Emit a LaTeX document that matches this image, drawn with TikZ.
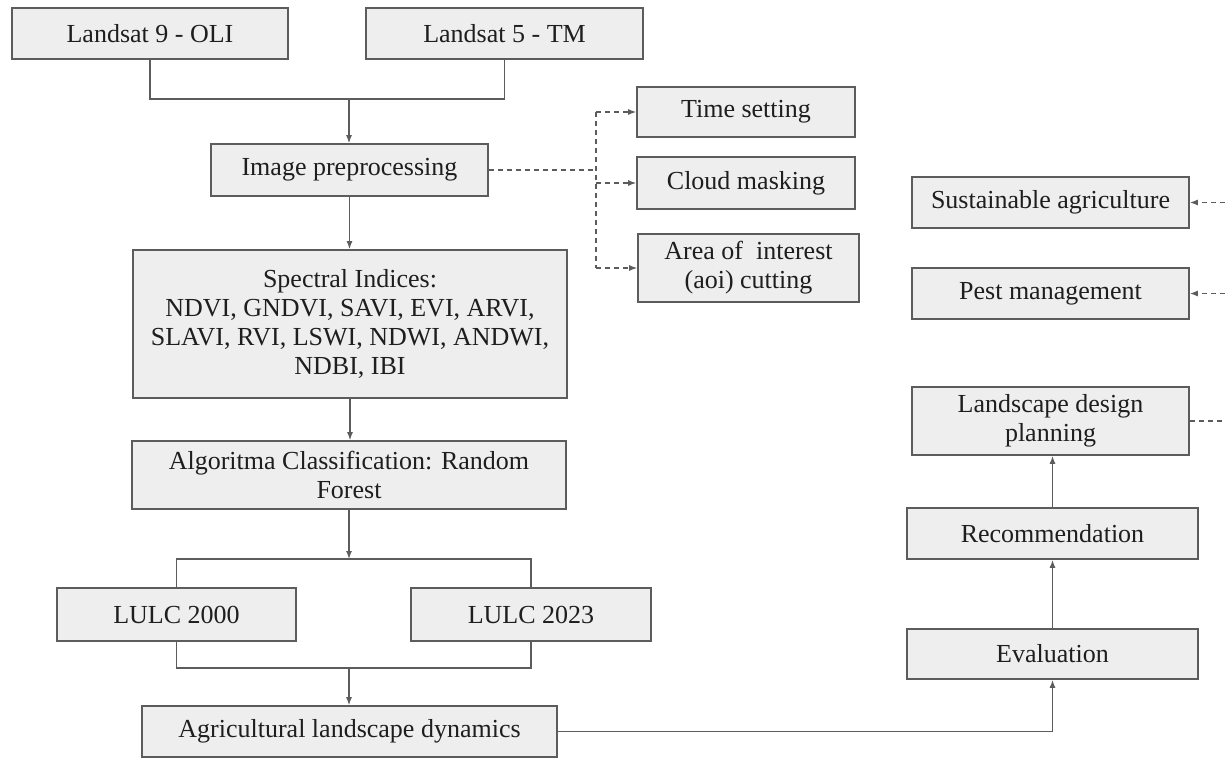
\documentclass[tikz,border=0pt]{standalone}
\usepackage{fontspec}
\setmainfont{Liberation Serif}
\usetikzlibrary{arrows.meta}
\definecolor{boxfill}{HTML}{EEEEEE}
\definecolor{boxline}{HTML}{5C5C5C}
\definecolor{txt}{HTML}{1E1E1E}
\begin{document}
\begin{tikzpicture}[x=1pt,y=-1pt,
  box/.style={draw=boxline, fill=boxfill, line width=1.6pt, inner sep=0pt, align=center,
    text=txt, font=\fontsize{26}{29}\selectfont},
  conn/.style={draw=boxline, line width=1.4pt},
  arr/.style={conn, -{Latex[length=8pt,width=6pt]}},
  dline/.style={conn, dash pattern=on 5pt off 4pt},
  darr/.style={arr, dash pattern=on 5pt off 4pt}]
\useasboundingbox (0,0) rectangle (1225,760);
\fill[white] (0,0) rectangle (1225,760);

% left column
\node[box, minimum width=276pt, minimum height=51pt] (l9) at (150,33.5) {Landsat 9 - OLI};
\node[box, minimum width=277pt, minimum height=51pt] (l5) at (504.5,33.5) {Landsat 5 - TM};
\node[box, minimum width=277pt, minimum height=52pt] (pre) at (349.5,170) {Image preprocessing};
\node[box, minimum width=434pt, minimum height=148pt] (spec) at (350,324)
  {Spectral Indices:\\ NDVI, GNDVI, SAVI, EVI, ARVI,\\ SLAVI, RVI, LSWI, NDWI, ANDWI,\\ NDBI, IBI};
\node[box, minimum width=434pt, minimum height=68pt] (algo) at (349,475)
  {Algoritma Classification: Random\\ Forest};
\node[box, minimum width=239pt, minimum height=53pt] (lulc0) at (176.5,614.5) {LULC 2000};
\node[box, minimum width=240pt, minimum height=53pt] (lulc3) at (531,614.5) {LULC 2023};
\node[box, minimum width=415pt, minimum height=51pt] (agri) at (349.5,731.5) {Agricultural landscape dynamics};

% preprocessing options
\node[box, minimum width=218pt, minimum height=50pt] (time) at (746,112) {Time setting};
\node[box, minimum width=218pt, minimum height=52pt] (cloud) at (746,183) {Cloud masking};
\node[box, minimum width=221pt, minimum height=68pt] (aoi) at (748.5,268) {Area of\ \ interest\\ (aoi) cutting};

% right column
\node[box, minimum width=277pt, minimum height=51pt] (sust) at (1050.5,202.5) {Sustainable agriculture};
\node[box, minimum width=277pt, minimum height=51pt] (pest) at (1050.5,293.5) {Pest management};
\node[box, minimum width=277pt, minimum height=68pt] (lds) at (1050.5,421) {Landscape design\\ planning};
\node[box, minimum width=291pt, minimum height=51pt] (rec) at (1052.5,533.5) {Recommendation};
\node[box, minimum width=291pt, minimum height=50pt] (eval) at (1052.5,654) {Evaluation};

% junctions
\coordinate (j1) at (349,99);
\coordinate (j2) at (596,170);
\coordinate (j2t) at (596,112);
\coordinate (j2c) at (596,183);
\coordinate (j2b) at (596,268);
\coordinate (j3) at (349,559);
\coordinate (j4) at (349,668);
\coordinate (r1) at (1225,202.5);
\coordinate (r2) at (1225,293.5);
\coordinate (r3) at (1225,421);

% connectors
\draw[conn] (l9.south) |- (j1) -| (l5.south);
\draw[arr] (j1) -- (j1 |- pre.north);
\draw[dline] (pre.east) -- (j2);
\draw[dline] (j2t) -- (j2b);
\draw[darr] (j2t) -- (time.west);
\draw[darr] (j2c) -- (cloud.west);
\draw[darr] (j2b) -- (aoi.west);
\draw[arr] (pre.south) -- (pre.south |- spec.north);
\draw[arr] (spec.south) -- (spec.south |- algo.north);
\draw[arr] (algo.south) -- (j3);
\draw[conn] (lulc0.north) |- (j3) -| (lulc3.north);
\draw[conn] (lulc0.south) |- (j4) -| (lulc3.south);
\draw[arr] (j4) -- (j4 |- agri.north);
\draw[arr] (agri.east) -| (eval.south);
\draw[arr] (eval.north) -- (rec.south);
\draw[arr] (rec.north) -- (rec.north |- lds.south);
\draw[darr] (r1) -- (sust.east);
\draw[darr] (r2) -- (pest.east);
\draw[dline] (lds.east) -- (r3);
\end{tikzpicture}
\end{document}
